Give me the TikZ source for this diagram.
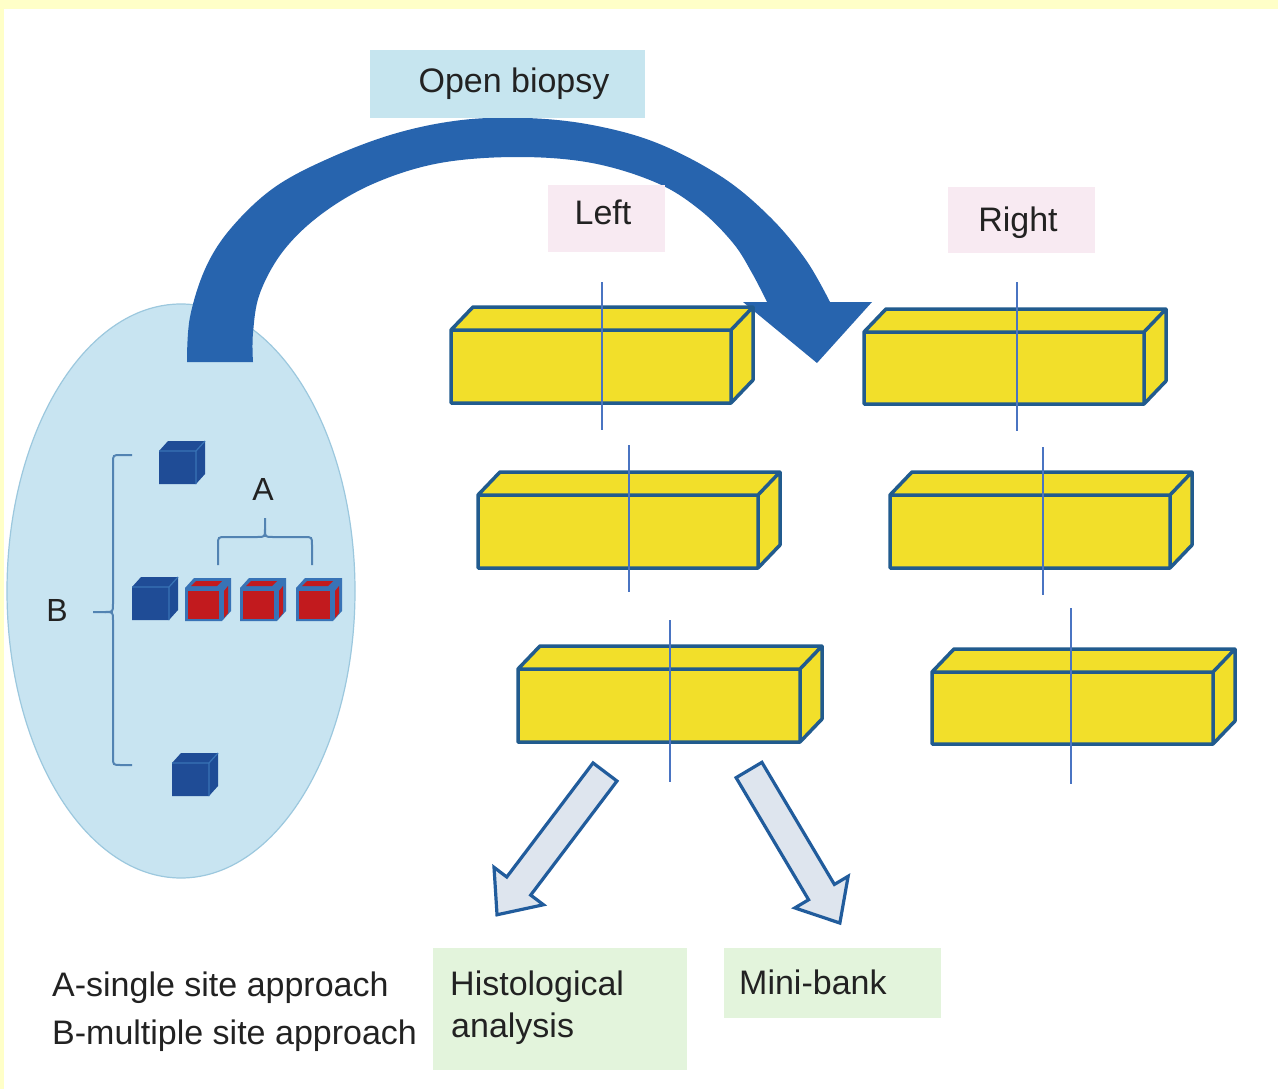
\documentclass[tikz,border=0pt]{standalone}
\usepackage{fontspec}
\setmainfont{Liberation Sans}
\usetikzlibrary{shapes.geometric}
\definecolor{frameyellow}{HTML}{FFFFC8}
\definecolor{ellfill}{HTML}{C8E4F1}
\definecolor{elldraw}{HTML}{9CC8DE}
\definecolor{bigblue}{HTML}{2764AE}
\definecolor{openfill}{HTML}{C6E5EF}
\definecolor{pinkfill}{HTML}{F8EAF2}
\definecolor{greenfill}{HTML}{E3F4DC}
\definecolor{prismyellow}{HTML}{F2DF2A}
\definecolor{prismedge}{HTML}{215B8E}
\definecolor{cutblue}{HTML}{4A74C2}
\definecolor{cubeblue}{HTML}{1F4C96}
\definecolor{cubeedge}{HTML}{3873B6}
\definecolor{cubered}{HTML}{C21A1E}
\definecolor{bracecol}{HTML}{5283B2}
\definecolor{arrfill}{HTML}{DEE5EE}
\definecolor{arrdraw}{HTML}{215C9C}
\definecolor{txtcol}{HTML}{222222}
\newcommand\yprism[4]{%
  \fill[prismyellow] (#1,#2) -- ++(22,-23) -- ++(#3,0) -- ++(0,#4) -- ++(-22,23) -- ++(-#3,0) -- cycle;
  \draw[prismline] (#1,#2) -- ++(22,-23) -- ++(#3,0) -- ++(0,#4) -- ++(-22,23) -- ++(-#3,0) -- cycle
     (#1,#2) -- ++(#3,0) -- ++(0,#4) ++(0,-#4) -- ++(22,-23);
}
\newcommand\bcube[2]{%
  \fill[cubeblue] (#1,#2) -- ++(9,-10) -- ++(37,0) -- ++(0,33) -- ++(-9,10) -- ++(-37,0) -- cycle;
  \draw[cubeedge, line width=1.2pt] (#1,#2) -- ++(37,0) -- ++(0,33) ++(0,-33) -- ++(9,-10);
}
\newcommand\rcube[2]{%
  \fill[cubeedge] (#1,#2) -- ++(9,-10) -- ++(37,0) -- ++(0,33) -- ++(-9,10) -- ++(-37,0) -- cycle;
  \fill[cubered] (#1+3,#2+3) rectangle ++(31,28);
  \fill[cubered] (#1+6,#2-2) -- ++(5,-5) -- ++(26,0) -- ++(-5,5) -- cycle;
  \fill[cubered] (#1+39,#2+3) -- ++(4,-5) -- ++(0,27) -- ++(-4,5) -- cycle;
}
\begin{document}
\begin{tikzpicture}[x=1pt,y=-1pt,
  txt/.style={font=\fontsize{34}{40}\selectfont, inner sep=0pt, text=txtcol},
  lbl/.style={font=\fontsize{32}{38}\selectfont, inner sep=0pt, text=txtcol},
  tbox/.style={draw=none, inner sep=0pt, anchor=north west},
  prismline/.style={draw=prismedge, line width=3.5pt, line join=round},
  cutline/.style={draw=cutblue, line width=1.6pt},
  brace/.style={draw=bracecol, line width=2pt},
  barrow/.style={draw=arrdraw, fill=arrfill, line width=3.2pt, line join=miter}]
\useasboundingbox (0,0) rectangle (1278,1089);
\fill[white] (0,0) rectangle (1278,1089);
\fill[frameyellow] (0,0) rectangle (1278,9);
\fill[frameyellow] (0,0) rectangle (4,1089);

% ellipse
\node[draw=elldraw, fill=ellfill, line width=1.2pt, ellipse, minimum width=348pt, minimum height=574pt, inner sep=0pt] (ell) at (181,591) {};

% big curved arrow
\fill[bigblue] plot[smooth, tension=0.6] coordinates {(187,362) (190,317) (206,267) (232,227) (275,187) (332,157) (397,133) (462,120) (527,118) (592,125) (657,143) (722,177) (770,217) (806,260) (830,302)}
  -- (872,302) -- (817,363) -- (743,302) --
  plot[smooth, tension=0.6] coordinates {(767,302) (752,273) (733,243) (700,210) (657,183) (592,163) (518,157) (440,163) (375,183) (323,213) (284,250) (260,293) (253,333) (253,362)} -- cycle;

% top label boxes
\node[tbox, fill=openfill, minimum width=275pt, minimum height=68pt] (openbox) at (370,50) {};
\node[txt, anchor=base] (opentxt) at (514,93) {Open biopsy};
\node[tbox, fill=pinkfill, minimum width=117pt, minimum height=67pt] (leftbox) at (548,185) {};
\node[txt, anchor=base] (lefttxt) at (603,224) {Left};
\node[tbox, fill=pinkfill, minimum width=147pt, minimum height=66pt] (rightbox) at (948,187) {};
\node[txt, anchor=base] (righttxt) at (1018,232) {Right};

% prisms
\yprism{451}{330}{280}{73}
\yprism{478}{495}{280}{73}
\yprism{518}{669}{282}{73}
\yprism{864}{332}{280}{72}
\yprism{890}{495}{280}{73}
\yprism{932}{672}{281}{72}

% cut lines
\draw[cutline] (602,282) -- (602,430);
\draw[cutline] (629,445) -- (629,592);
\draw[cutline] (670,620) -- (670,782);
\draw[cutline] (1017,282) -- (1017,431);
\draw[cutline] (1043,447) -- (1043,595);
\draw[cutline] (1071,608) -- (1071,784);

% cubes
\bcube{159}{451}
\bcube{132}{587}
\rcube{185}{588}
\rcube{240}{588}
\rcube{296}{588}
\bcube{172}{763}

% braces
\draw[brace] (218,565) -- (218,545) .. controls (218,537) .. (226,537) -- (257,537) .. controls (265,537) .. (265,529) -- (265,518);
\draw[brace] (312,565) -- (312,545) .. controls (312,537) .. (304,537) -- (273,537) .. controls (265,537) .. (265,529);
\draw[brace] (132,455) -- (121,455) .. controls (113,455) .. (113,463) -- (113,604) .. controls (113,612) .. (105,612) -- (93,612);
\draw[brace] (132,765) -- (121,765) .. controls (113,765) .. (113,757) -- (113,620) .. controls (113,612) .. (105,612);
\node[lbl, anchor=base] (A) at (263,500) {A};
\node[lbl, anchor=base] (B) at (57,621) {B};

% bottom block arrows
\coordinate (la) at (605,772);
\coordinate (ra) at (749,770);
\begin{scope}[shift={(la)}, rotate=232.9]
  \draw[barrow] (0,-15) -- (143,-15) -- (143,-31) -- (179,0) -- (143,31) -- (143,15) -- (0,15) -- cycle;
\end{scope}
\begin{scope}[shift={(ra)}, rotate=-59.3]
  \draw[barrow] (0,-15) -- (142,-15) -- (142,-31) -- (178,0) -- (142,31) -- (142,15) -- (0,15) -- cycle;
\end{scope}

% bottom boxes
\node[tbox, fill=greenfill, minimum width=254pt, minimum height=122pt] (histbox) at (433,948) {};
\node[txt, anchor=base west] (hist1) at (450,995) {Histological};
\node[txt, anchor=base west] (hist2) at (451,1037) {analysis};
\node[tbox, fill=greenfill, minimum width=217pt, minimum height=70pt] (minibox) at (724,948) {};
\node[txt, anchor=base west] (mini) at (739,994) {Mini-bank};

% legend
\node[txt, anchor=base west] (legA) at (52,996) {A-single site approach};
\node[txt, anchor=base west] (legB) at (52,1044) {B-multiple site approach};
\end{tikzpicture}
\end{document}
